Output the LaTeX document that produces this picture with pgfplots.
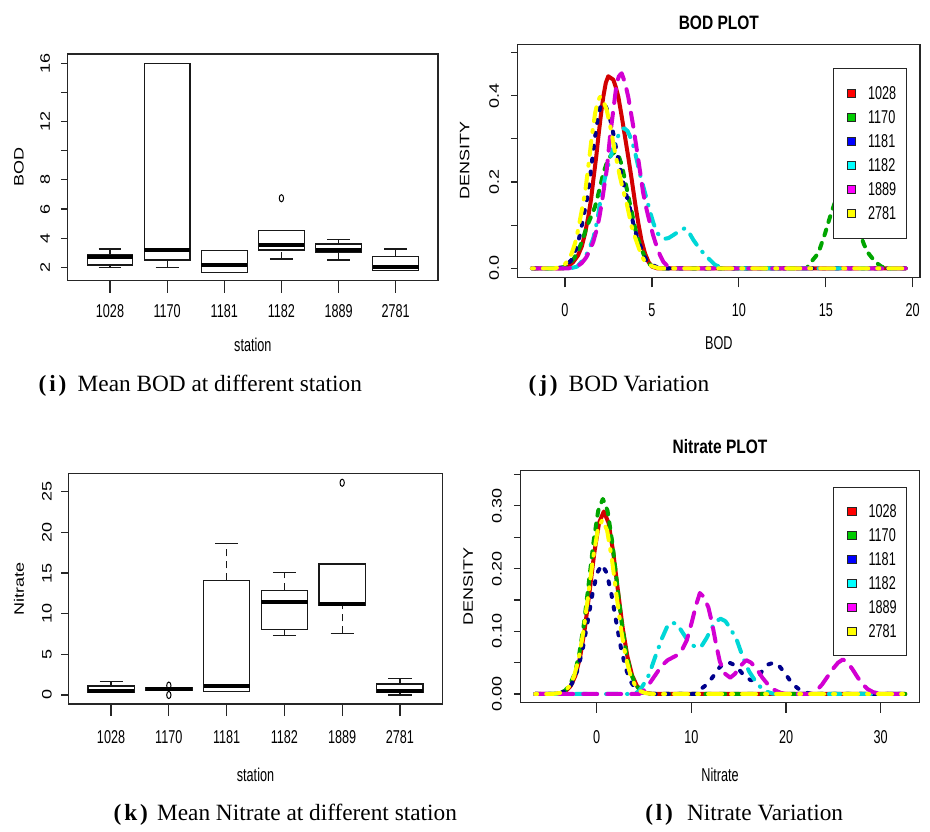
\documentclass[border=0pt]{standalone}
\usepackage{fontspec}
\setmainfont{Liberation Serif}
\newfontfamily\nsans[FakeStretch=0.68]{Liberation Sans}
\newfontfamily\tsans[FakeStretch=0.8]{Liberation Sans}
\newfontfamily\rsans{Liberation Sans}
\usepackage{graphicx}
\usepackage{pgfplots}
\pgfplotsset{compat=1.18}
\usepgfplotslibrary{statistics}

\newcommand\tickfont{\nsans\fontsize{9.3pt}{9.3pt}\selectfont}
\newcommand\rtickfont{\rsans\fontsize{9pt}{9pt}\selectfont}
\newcommand\ttlfont{\tsans\bfseries\fontsize{9.7pt}{9.7pt}\selectfont}
\newcommand\capfont{\fontsize{11.65pt}{12pt}\selectfont}
\newcommand\rl[1]{\scalebox{1}[0.76]{#1}}

\definecolor{lred}{RGB}{210,0,0}
\definecolor{lgreen}{RGB}{0,165,0}
\definecolor{lblue}{RGB}{0,0,140}
\definecolor{lcyan}{RGB}{0,215,215}
\definecolor{lmag}{RGB}{210,0,210}
\definecolor{lyel}{RGB}{255,255,0}
\definecolor{fred}{RGB}{255,0,0}
\definecolor{fgreen}{RGB}{0,205,0}
\definecolor{fblue}{RGB}{0,0,255}
\definecolor{fcyan}{RGB}{0,255,255}
\definecolor{fmag}{RGB}{255,0,255}
\definecolor{fyel}{RGB}{255,255,0}

\pgfplotsset{
  rpanel/.style={
    scale only axis, anchor=south west, enlargelimits=false,
    axis line style={black!85, line width=0.6pt},
    tick style={black!85, line width=0.6pt},
    tick align=outside, tick pos=left,
    ytick style={/pgfplots/major tick length=3.4pt},
    xticklabel style={font=\tickfont, anchor=base, inner sep=0pt},
    yticklabel style={font=\rtickfont, rotate=90, anchor=base, inner sep=0pt},
    xlabel style={font=\tickfont, at={(axis description cs:0.5,0)}, anchor=base, inner sep=0pt},
    ylabel style={font=\rtickfont, at={(axis description cs:-0.132,0.5)}, anchor=center, inner sep=0pt},
    title style={font=\ttlfont, at={(axis description cs:0.5,1)}, anchor=base, inner sep=0pt},
  },
  sqleg/.style={
    legend image code/.code={%
      \path (-1.7pt,0pt);
      \draw[##1, draw=black!85, line width=0.4pt, solid] (0pt,-2.1pt) rectangle (4.2pt,2.1pt);
    },
  },
  rleg/.style={
    sqleg,
    legend cell align=left,
    legend style={anchor=north west, draw=black!85, line width=0.5pt, fill=white,
      inner xsep=5pt, inner ysep=9.2pt, row sep=5.7pt, column sep=6.1pt,
      nodes={inner sep=0pt, font=\tickfont, text height=6.3pt, text depth=0pt}},
  },
  dl/.style={line width=2pt, line cap=round, line join=round, mark=none, forget plot},
  rbox/.style={
    boxplot/draw direction=y,
    boxplot/box extend=0.8,
    boxplot/whisker extend=0.4,
    boxplot/draw/box/.code={%
      \draw[black!90, line width=0.6pt, solid]
        (boxplot box cs:\pgfplotsboxplotvalue{lower quartile},0) rectangle
        (boxplot box cs:\pgfplotsboxplotvalue{upper quartile},1);
    },
    boxplot/draw/median/.code={%
      \draw[black, line width=1.9pt, solid]
        (boxplot box cs:\pgfplotsboxplotvalue{median},0) --
        (boxplot box cs:\pgfplotsboxplotvalue{median},1);
    },
    boxplot/draw/lower whisker/.code={%
      \draw[black!90, line width=0.6pt, dash pattern=on 3.5pt off 2.5pt]
        (boxplot box cs:\pgfplotsboxplotvalue{lower whisker},0.5) --
        (boxplot box cs:\pgfplotsboxplotvalue{lower quartile},0.5);
      \draw[black!90, line width=0.6pt, solid]
        (boxplot whisker cs:\pgfplotsboxplotvalue{lower whisker},0) --
        (boxplot whisker cs:\pgfplotsboxplotvalue{lower whisker},1);
    },
    boxplot/draw/upper whisker/.code={%
      \draw[black!90, line width=0.6pt, dash pattern=on 3.5pt off 2.5pt]
        (boxplot box cs:\pgfplotsboxplotvalue{upper quartile},0.5) --
        (boxplot box cs:\pgfplotsboxplotvalue{upper whisker},0.5);
      \draw[black!90, line width=0.6pt, solid]
        (boxplot whisker cs:\pgfplotsboxplotvalue{upper whisker},0) --
        (boxplot whisker cs:\pgfplotsboxplotvalue{upper whisker},1);
    },
  },
  outl/.style={only marks, mark=o, mark size=1.8pt, mark options={xscale=0.6, black, line width=0.5pt, solid}},
}

\begin{document}
\begin{tikzpicture}
\path[use as bounding box] (0pt,0pt) rectangle (465pt,-415.5pt);

%% (i) BOD boxplot
\begin{axis}[rpanel, rbox, at={(33.85pt,-140.35pt)}, width=185.15pt, height=113.35pt,
  xmin=0.26, xmax=6.74, ymin=1.08, ymax=16.64,
  xtick={1,2,3,4,5,6}, xticklabels={1028,1170,1181,1182,1889,2781},
  ytick={2,4,6,8,10,12,14,16},
  yticklabels={\rl{2},\rl{4},\rl{6},\rl{8},{},\rl{12},{},\rl{16}},
  xtick style={/pgfplots/major tick length=6pt},
  xticklabel shift=14pt, yticklabel shift=4.6pt,
  xlabel={station}, xlabel style={yshift=-35.5pt},
  ylabel={\rl{BOD}}]
\addplot[black, boxplot prepared={draw position=1, lower whisker=2.0, lower quartile=2.16, median=2.73, upper quartile=2.85, upper whisker=3.26}] coordinates {};
\addplot[black, boxplot prepared={draw position=2, lower whisker=2.0, lower quartile=2.5, median=3.17, upper quartile=16.0, upper whisker=16.0}] coordinates {};
\addplot[black, boxplot prepared={draw position=3, lower whisker=1.66, lower quartile=1.66, median=2.18, upper quartile=3.17, upper whisker=3.17}] coordinates {};
\addplot[black, boxplot prepared={draw position=4, lower whisker=2.57, lower quartile=3.19, median=3.51, upper quartile=4.52, upper whisker=4.52}] coordinates {};
\addplot[black, boxplot prepared={draw position=5, lower whisker=2.5, lower quartile=3.05, median=3.19, upper quartile=3.6, upper whisker=3.92}] coordinates {};
\addplot[black, boxplot prepared={draw position=6, lower whisker=1.77, lower quartile=1.77, median=2.0, upper quartile=2.73, upper whisker=3.26}] coordinates {};
\addplot[outl] coordinates {(4,6.74)};
\end{axis}

%% (j) BOD density
\begin{axis}[rpanel, rleg, at={(258.85pt,-138.65pt)}, width=201.15pt, height=116.5pt,
  xmin=-2.72, xmax=20.42, ymin=-0.0208, ymax=0.519,
  xtick={0,5,10,15,20}, xticklabels={0,5,10,15,20},
  ytick={0,0.1,0.2,0.3,0.4,0.5},
  yticklabels={\rl{0.0},{},\rl{0.2},{},\rl{0.4},{}},
  xtick style={/pgfplots/major tick length=5pt},
  xticklabel shift=15.5pt, yticklabel shift=5.1pt,
  xlabel={BOD}, xlabel style={yshift=-36.3pt},
  ylabel={\rl{DENSITY}},
  title={BOD PLOT}, title style={yshift=1.2pt},
  legend style={at={(0.783,0.897)}}]
\addplot[dl, lred] coordinates {(-1.9,0) (-0.1,0) (0.2,0.004) (0.48,0.015) (0.75,0.03) (0.96,0.05) (1.15,0.08) (1.34,0.12) (1.5,0.16) (1.63,0.205) (1.8,0.26) (1.92,0.305) (2.05,0.35) (2.2,0.397) (2.35,0.43) (2.49,0.445) (2.78,0.437) (2.92,0.42) (3.07,0.397) (3.25,0.355) (3.45,0.305) (3.65,0.255) (3.84,0.205) (4.03,0.152) (4.22,0.104) (4.4,0.065) (4.6,0.035) (4.8,0.015) (5.0,0.004) (5.3,0) (19.6,0)};
\addplot[dl, lgreen, dash pattern=on 3pt off 4pt] coordinates {(-1.9,0) (-0.3,0) (0,0.004) (0.29,0.012) (0.55,0.025) (0.77,0.042) (1.0,0.065) (1.25,0.096) (1.5,0.12) (1.73,0.143) (2.0,0.185) (2.2,0.22) (2.45,0.25) (2.7,0.265) (2.9,0.27) (3.07,0.262) (3.26,0.24) (3.45,0.205) (3.65,0.165) (3.84,0.13) (4.05,0.09) (4.3,0.055) (4.6,0.025) (4.9,0.008) (5.2,0.002) (5.5,0) (13.9,0) (14.1,0.012) (14.57,0.035) (14.96,0.081) (15.25,0.12) (15.5,0.15) (15.8,0.17) (16.1,0.17) (16.4,0.15) (16.7,0.115) (16.97,0.081) (17.2,0.055) (17.45,0.035) (17.84,0.015) (18.2,0.004) (18.5,0) (19.6,0)};
\addplot[dl, lblue, dash pattern=on 1.5pt off 5pt] coordinates {(-1.9,0) (-0.45,0) (-0.25,0.002) (-0.05,0.005) (0.15,0.01) (0.34,0.018) (0.54,0.034) (0.73,0.056) (0.87,0.08) (1.01,0.108) (1.15,0.137) (1.3,0.168) (1.49,0.227) (1.69,0.294) (1.88,0.346) (2.02,0.372) (2.16,0.383) (2.3,0.38) (2.55,0.354) (2.75,0.318) (2.93,0.28) (3.12,0.241) (3.31,0.205) (3.5,0.174) (3.7,0.145) (3.85,0.118) (3.99,0.093) (4.18,0.069) (4.37,0.048) (4.55,0.029) (4.75,0.014) (5.0,0.008) (5.23,0.004) (5.55,0) (19.6,0)};
\addplot[dl, lcyan, dash pattern=on 0.3pt off 4.5pt on 6pt off 4.5pt] coordinates {(-1.9,0) (0.3,0) (0.7,0.004) (1.05,0.02) (1.35,0.04) (1.63,0.07) (1.85,0.11) (2.05,0.16) (2.3,0.21) (2.59,0.255) (2.92,0.295) (3.2,0.318) (3.4,0.325) (3.6,0.318) (3.84,0.297) (4.05,0.265) (4.3,0.22) (4.5,0.19) (4.7,0.16) (4.9,0.13) (5.1,0.103) (5.35,0.08) (5.66,0.068) (5.95,0.07) (6.23,0.077) (6.6,0.087) (6.9,0.093) (7.15,0.082) (7.38,0.066) (7.75,0.045) (8.15,0.027) (8.63,0.008) (9.0,0.002) (9.3,0) (19.6,0)};
\addplot[dl, lmag, dash pattern=on 7pt off 5pt] coordinates {(-1.9,0) (0.2,0) (0.48,0.002) (0.75,0.006) (0.96,0.012) (1.2,0.024) (1.44,0.042) (1.63,0.062) (1.82,0.089) (1.97,0.117) (2.11,0.15) (2.25,0.188) (2.4,0.228) (2.59,0.305) (2.78,0.367) (2.97,0.428) (3.1,0.445) (3.26,0.452) (3.45,0.43) (3.64,0.397) (3.93,0.328) (4.22,0.251) (4.5,0.174) (4.7,0.135) (4.89,0.104) (5.08,0.075) (5.28,0.05) (5.47,0.03) (5.66,0.015) (5.85,0.007) (6.05,0.003) (6.3,0) (19.6,0)};
\addplot[dl, lyel, dash pattern=on 1pt off 4.5pt on 7pt off 4.5pt] coordinates {(-1.9,0) (-0.6,0) (-0.4,0.002) (-0.2,0.005) (0.0,0.01) (0.19,0.019) (0.39,0.035) (0.58,0.058) (0.72,0.083) (0.86,0.112) (1.0,0.142) (1.15,0.174) (1.34,0.235) (1.54,0.305) (1.73,0.359) (1.87,0.385) (2.01,0.397) (2.15,0.393) (2.4,0.367) (2.6,0.33) (2.78,0.29) (2.97,0.25) (3.16,0.212) (3.35,0.18) (3.55,0.15) (3.7,0.122) (3.84,0.096) (4.03,0.072) (4.22,0.05) (4.4,0.03) (4.6,0.015) (4.85,0.008) (5.08,0.004) (5.4,0) (19.6,0)};
\addlegendimage{fill=fred}\addlegendentry{1028}
\addlegendimage{fill=fgreen}\addlegendentry{1170}
\addlegendimage{fill=fblue}\addlegendentry{1181}
\addlegendimage{fill=fcyan}\addlegendentry{1182}
\addlegendimage{fill=fmag}\addlegendentry{1889}
\addlegendimage{fill=fyel}\addlegendentry{2781}
\end{axis}

%% (k) Nitrate boxplot
\begin{axis}[rpanel, rbox, at={(34.15pt,-352pt)}, width=187.2pt, height=115.35pt,
  xmin=0.26, xmax=6.74, ymin=-1.11, ymax=27.26,
  xtick={1,2,3,4,5,6}, xticklabels={1028,1170,1181,1182,1889,2781},
  ytick={0,5,10,15,20,25},
  yticklabels={\rl{0},\rl{5},\rl{10},\rl{15},\rl{20},\rl{25}},
  xtick style={/pgfplots/major tick length=6pt},
  xticklabel shift=15.3pt, yticklabel shift=4.1pt,
  xlabel={station}, xlabel style={yshift=-38.8pt},
  ylabel={\rl{Nitrate}}]
\addplot[black, boxplot prepared={draw position=1, lower whisker=0.29, lower quartile=0.29, median=0.5, upper quartile=1.1, upper whisker=1.68}] coordinates {};
\addplot[black, boxplot prepared={draw position=2, lower whisker=0.55, lower quartile=0.55, median=0.75, upper quartile=0.92, upper whisker=0.92}] coordinates {};
\addplot[black, boxplot prepared={draw position=3, lower whisker=0.45, lower quartile=0.45, median=1.1, upper quartile=14.1, upper whisker=18.65}] coordinates {};
\addplot[black, boxplot prepared={draw position=4, lower whisker=7.3, lower quartile=8.03, median=11.4, upper quartile=12.87, upper whisker=15.04}] coordinates {};
\addplot[black, boxplot prepared={draw position=5, lower whisker=7.58, lower quartile=11.07, median=11.2, upper quartile=16.1, upper whisker=16.1}] coordinates {};
\addplot[black, boxplot prepared={draw position=6, lower whisker=0.0, lower quartile=0.29, median=0.49, upper quartile=1.35, upper whisker=2.0}] coordinates {};
\addplot[outl] coordinates {(2,1.15) (2,0.0) (5,26.1)};
\end{axis}

%% (l) Nitrate density
\begin{axis}[rpanel, rleg, at={(260.35pt,-351.35pt)}, width=199.3pt, height=116pt,
  xmin=-8.03, xmax=34.08, ymin=-0.0139, ymax=0.356,
  xtick={0,10,20,30}, xticklabels={0,10,20,30},
  ytick={0,0.05,0.1,0.15,0.2,0.25,0.3,0.35},
  yticklabels={\rl{0.00},{},\rl{0.10},{},\rl{0.20},{},\rl{0.30},{}},
  xtick style={/pgfplots/major tick length=5pt},
  xticklabel shift=16.2pt, yticklabel shift=5.3pt,
  xlabel={Nitrate}, xlabel style={yshift=-39.5pt},
  ylabel={\rl{DENSITY}},
  title={Nitrate PLOT}, title style={yshift=2.7pt},
  legend style={at={(0.784,0.931)}, inner ysep=9pt}]
\addplot[dl, lred] coordinates {(-6.5,0) (-4.75,0) (-4.25,0.0005) (-3.75,0.0017) (-3.25,0.0049) (-2.75,0.0128) (-2.25,0.0293) (-1.75,0.0591) (-1.25,0.1049) (-0.75,0.1639) (-0.25,0.2255) (0.25,0.273) (0.75,0.291) (1.25,0.273) (1.75,0.2255) (2.25,0.1639) (2.75,0.1049) (3.25,0.0591) (3.75,0.0293) (4.25,0.0128) (4.75,0.0049) (5.25,0.0017) (5.75,0.0005) (6.25,0) (32.6,0)};
\addplot[dl, lgreen, dash pattern=on 3pt off 4pt] coordinates {(-6.5,0) (-4.85,0) (-4.35,0.0005) (-3.85,0.0018) (-3.35,0.0053) (-2.85,0.0137) (-2.35,0.0313) (-1.85,0.0632) (-1.35,0.1121) (-0.85,0.1752) (-0.35,0.241) (0.15,0.2918) (0.65,0.311) (1.15,0.2918) (1.65,0.241) (2.15,0.1752) (2.65,0.1121) (3.15,0.0632) (3.65,0.0313) (4.15,0.0137) (4.65,0.0053) (5.15,0.0018) (5.65,0.0005) (6.15,0) (32.6,0)};
\addplot[dl, lblue, dash pattern=on 1.5pt off 5pt] coordinates {(-6.5,0) (-4.95,0) (-4.45,0.0004) (-3.95,0.0012) (-3.45,0.0035) (-2.95,0.009) (-2.45,0.0207) (-1.95,0.0418) (-1.45,0.0742) (-0.95,0.116) (-0.45,0.1596) (0.05,0.1933) (0.55,0.206) (1.05,0.1933) (1.55,0.1596) (2.05,0.116) (2.55,0.0742) (3.05,0.0418) (3.55,0.0207) (4.05,0.009) (4.55,0.0035) (5.05,0.0012) (5.55,0.0004) (6.0,0) (10.3,0) (10.6,0.002) (11.1,0.009) (11.7,0.016) (12.3,0.028) (12.9,0.041) (13.4,0.049) (14.0,0.05) (14.6,0.046) (15.2,0.036) (15.7,0.027) (16.3,0.022) (16.9,0.025) (17.5,0.037) (18.1,0.047) (18.7,0.05) (19.2,0.046) (19.8,0.035) (20.4,0.022) (21.0,0.012) (21.6,0.005) (22.2,0.002) (22.8,0) (32.6,0)};
\addplot[dl, lcyan, dash pattern=on 0.3pt off 4.5pt on 6pt off 4.5pt] coordinates {(-6.5,0) (4.0,0) (4.5,0.005) (4.9,0.014) (5.5,0.03) (6.2,0.06) (6.9,0.089) (7.4,0.106) (7.9,0.114) (8.4,0.112) (8.9,0.102) (9.5,0.088) (10.2,0.077) (10.7,0.074) (11.1,0.077) (11.6,0.089) (12.1,0.104) (12.6,0.116) (13.1,0.12) (13.6,0.116) (14.1,0.105) (14.8,0.086) (15.5,0.056) (16.1,0.036) (16.7,0.022) (17.3,0.011) (17.9,0.004) (18.5,0.001) (19.0,0) (32.6,0)};
\addplot[dl, lmag, dash pattern=on 7pt off 5pt] coordinates {(-6.5,0) (4.5,0) (5.0,0.006) (5.5,0.015) (6.0,0.026) (6.5,0.037) (7.0,0.047) (7.5,0.054) (8.0,0.058) (8.5,0.062) (9.0,0.07) (9.5,0.085) (10.0,0.112) (10.5,0.142) (10.9,0.161) (11.3,0.155) (11.8,0.138) (12.2,0.112) (12.6,0.08) (13.0,0.052) (13.5,0.033) (14.1,0.026) (14.6,0.032) (15.2,0.045) (15.8,0.054) (16.3,0.05) (16.9,0.04) (17.5,0.026) (18.1,0.015) (18.7,0.007) (19.4,0.002) (20.0,0) (22.6,0) (23.2,0.005) (23.8,0.015) (24.4,0.028) (25.0,0.041) (25.5,0.05) (26.0,0.055) (26.5,0.05) (27.0,0.04) (27.5,0.028) (28.0,0.017) (28.6,0.008) (29.2,0.003) (29.8,0.001) (30.4,0) (32.6,0)};
\addplot[dl, lyel, dash pattern=on 1pt off 4.5pt on 7pt off 4.5pt] coordinates {(-6.5,0) (-4.9,0) (-4.4,0.0005) (-3.9,0.0016) (-3.4,0.0047) (-2.9,0.0122) (-2.4,0.028) (-1.9,0.0565) (-1.4,0.1002) (-0.9,0.1566) (-0.4,0.2154) (0.1,0.2608) (0.6,0.278) (1.1,0.2608) (1.6,0.2154) (2.1,0.1566) (2.6,0.1002) (3.1,0.0565) (3.6,0.028) (4.1,0.0122) (4.6,0.0047) (5.1,0.0016) (5.6,0.0005) (6.1,0) (32.6,0)};
\addlegendimage{fill=fred}\addlegendentry{1028}
\addlegendimage{fill=fgreen}\addlegendentry{1170}
\addlegendimage{fill=fblue}\addlegendentry{1181}
\addlegendimage{fill=fcyan}\addlegendentry{1182}
\addlegendimage{fill=fmag}\addlegendentry{1889}
\addlegendimage{fill=fyel}\addlegendentry{2781}
\end{axis}

%% captions
\node[anchor=base west, inner sep=0pt, font=\capfont\bfseries] at (19.15pt,-195.85pt) {(\kern1.4pt i\kern1.4pt)};
\node[anchor=base west, inner sep=0pt, font=\capfont] at (38.65pt,-195.85pt) {Mean BOD at different station};
\node[anchor=base west, inner sep=0pt, font=\capfont\bfseries] at (264.15pt,-195.85pt) {(\kern1.4pt j\kern1.4pt)};
\node[anchor=base west, inner sep=0pt, font=\capfont] at (284.15pt,-195.85pt) {BOD Variation};
\node[anchor=base west, inner sep=0pt, font=\capfont\bfseries] at (56.65pt,-410pt) {(\kern1.4pt k\kern1.4pt)};
\node[anchor=base west, inner sep=0pt, font=\capfont] at (78.35pt,-410pt) {Mean Nitrate at different station};
\node[anchor=base west, inner sep=0pt, font=\capfont\bfseries] at (322.5pt,-410pt) {(\kern1.4pt l\kern1.4pt)};
\node[anchor=base west, inner sep=0pt, font=\capfont] at (343.35pt,-410pt) {Nitrate Variation};
\end{tikzpicture}
\end{document}
